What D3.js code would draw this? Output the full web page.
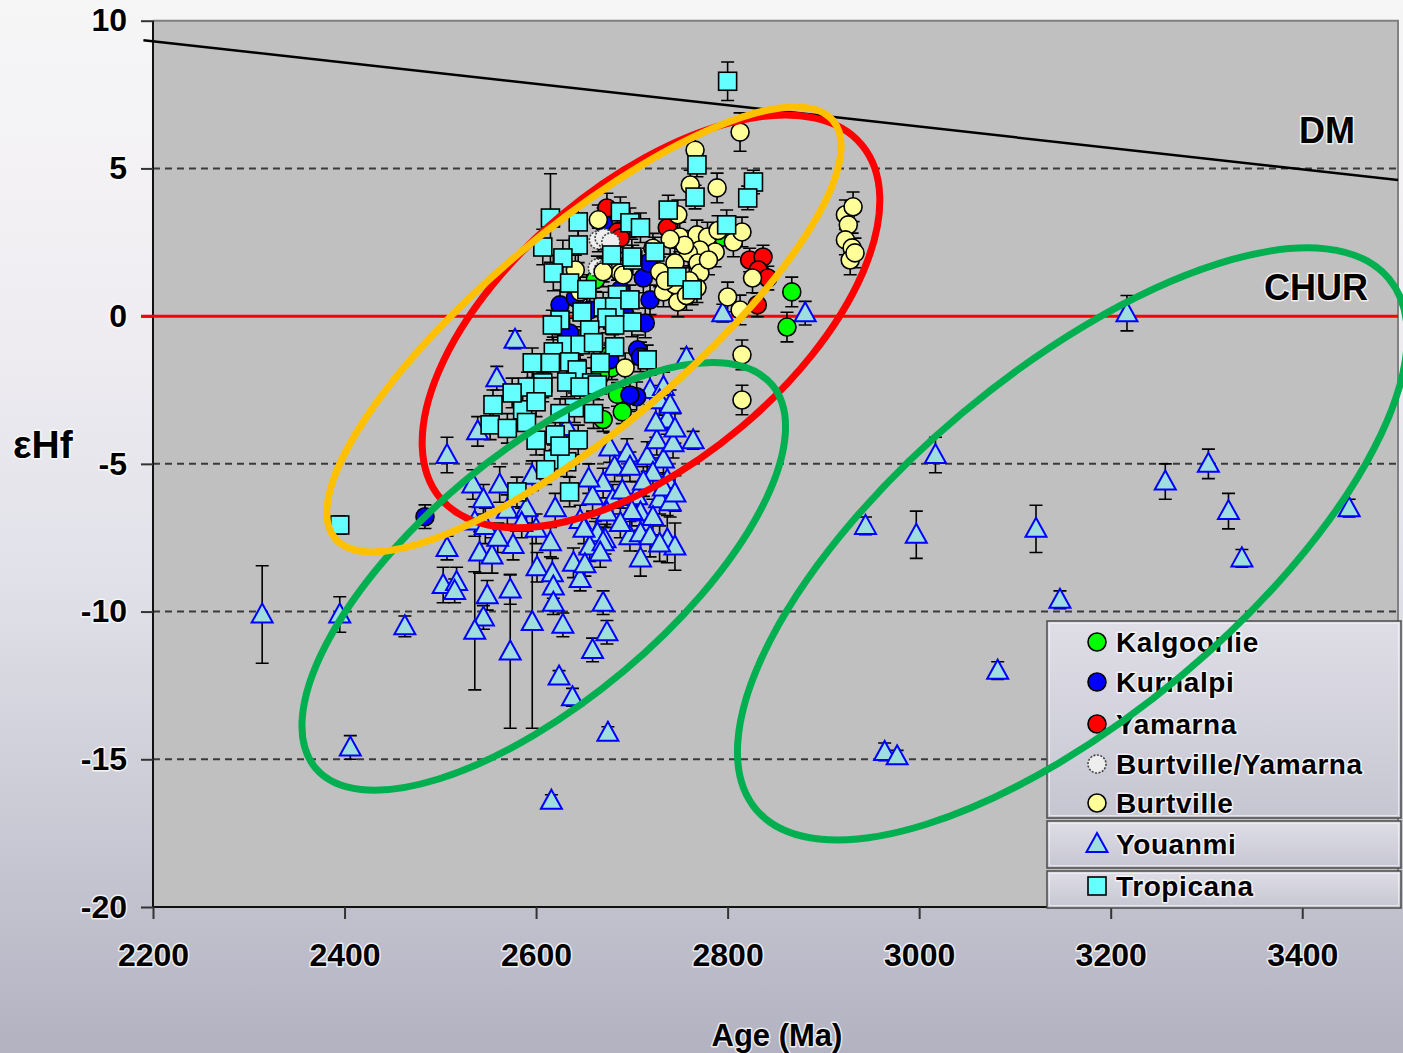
<!DOCTYPE html>
<html>
<head>
<meta charset="utf-8">
<script src="https://cdn.jsdelivr.net/npm/d3@7"></script>
<style>
  html, body { margin: 0; padding: 0; }
  svg { display: block; }
  text { font-family: "Liberation Sans", Arial, sans-serif; font-weight: bold; fill: #000; }
  .halo { paint-order: stroke; stroke: rgba(255,255,255,0.75); stroke-width: 3px; stroke-linejoin: round; }
</style>
</head>
<body>
<svg id="chart" width="1403" height="1053"></svg>
<script>
// ---- axis ticks ----
const xTicks = [2200, 2400, 2600, 2800, 3000, 3200, 3400];
const yTicks = [-20, -15, -10, -5, 0, 5, 10];
const gridValues = [5, -5, -10, -15];

// ---- reference curves: depleted mantle and CHUR ----
const dmCurve = [[2190, 9.34], [3500, 4.61]];
const churValue = 0;

// ---- samples: [age (Ma), εHf, 2σ error] ----
const kalgoorlie = [
  [2670, -3.5, 0.4], [2690, -3.24, 0.4], [2685, -2.65, 0.4], [2677, -1.31, 0.4],
  [2662, 1.23, 0.4], [2679, -1.75, 0.4], [2667, -2.0, 0.4], [2795, 2.68, 0.3],
  [2867, 0.82, 0.5], [2862, -0.37, 0.5]
];
const kurnalpi = [
  [2625, 0.38, 0.5], [2635, -0.57, 0.5], [2712, 1.29, 0.5], [2714, -0.23, 0.5],
  [2706, -1.14, 0.5], [2717, 1.8, 0.5], [2709, -1.38, 0.5], [2705, -2.73, 0.5],
  [2484, -6.79, 0.4], [2670, 3.16, 0.5], [2677, -1.48, 0.5], [2688, 0.89, 0.5],
  [2693, 0.04, 0.5], [2719, 0.55, 0.5], [2698, -2.67, 0.5], [2656, 0.21, 0.5],
  [2641, 0.62, 0.5]
];
const yamarna = [
  [2674, 3.66, 0.5], [2685, 2.85, 0.5], [2688, 2.65, 0.5], [2737, 2.99, 0.5],
  [2823, 1.9, 0.4], [2837, 2.0, 0.4], [2832, 1.56, 0.4], [2842, 1.29, 0.4],
  [2831, 0.38, 0.4]
];
const burtvilleYamarna = [
  [2665, 2.58, 0.4], [2671, 2.65, 0.4], [2664, 1.63, 0.4], [2670, 1.56, 0.4],
  [2678, 2.51, 0.4]
];
const burtville = [
  [2813, 6.23, 0.65], [2766, 5.62, 0.5], [2761, 4.44, 0.5], [2789, 4.34, 0.5],
  [2748, 3.43, 0.5], [2750, 2.68, 0.5], [2768, 2.75, 0.5], [2779, 2.68, 0.5],
  [2787, 2.17, 0.5], [2771, 2.24, 0.5], [2759, 2.14, 0.5], [2769, 1.8, 0.5],
  [2745, 1.8, 0.5], [2729, 1.5, 0.5], [2733, 0.82, 0.5], [2748, 0.48, 0.5],
  [2771, 1.46, 0.5], [2768, 0.96, 0.5], [2806, 2.51, 0.5], [2815, 2.85, 0.5],
  [2826, 1.29, 0.5], [2800, 0.65, 0.5], [2813, 0.21, 0.5], [2923, 3.43, 0.5],
  [2931, 3.7, 0.5], [2926, 3.09, 0.5], [2923, 2.58, 0.5], [2930, 2.31, 0.5],
  [2928, 1.9, 0.5], [2933, 2.14, 0.5], [2688, 1.46, 0.5], [2670, 1.5, 0.5],
  [2815, -1.31, 0.5], [2815, -2.84, 0.5], [2693, -1.75, 0.5], [2665, 3.26, 0.5],
  [2691, 1.39, 0.5], [2641, 1.56, 0.5], [2646, 0.82, 0.5], [2745, 1.06, 0.5],
  [2755, 2.4, 0.5], [2780, 1.9, 0.5], [2760, 1.2, 0.5], [2740, 2.6, 0.5],
  [2790, 2.9, 0.5], [2722, 2.3, 0.5], [2735, 1.2, 0.5], [2757, 0.7, 0.5]
];
const youanmi = [
  [2314, -10.1, 1.65], [2395, -10.1, 0.6], [2406, -14.6, 0.4], [2463, -10.5, 0.35],
  [2507, -4.7, 0.6], [2559, -2.1, 0.4], [2578, -0.8, 0.3], [2616, -16.4, 0.2],
  [2675, -14.1, 0.2], [2624, -12.2, 0.2], [2638, -12.9, 0.3], [2795, 0.1, 0.3],
  [2881, 0.1, 0.4], [2764, -4.2, 0.3], [2757, -1.4, 0.3], [2944, -7.1, 0.3],
  [2997, -7.4, 0.8], [3017, -4.7, 0.6], [3082, -12.0, 0.3], [3122, -7.2, 0.8],
  [3147, -9.6, 0.3], [3217, 0.1, 0.6], [3257, -5.6, 0.6], [3302, -5.0, 0.5],
  [3323, -6.6, 0.6], [3337, -8.2, 0.3], [3449, -6.5, 0.3], [2964, -14.75, 0.3],
  [2977, -14.9, 0.2],
  [2534, -5.7, 0.5], [2562, -5.7, 0.6], [2596, -5.4, 0.5], [2536, -6.95, 0.5],
  [2547, -7.1, 0.6], [2570, -6.55, 0.5], [2507, -7.85, 0.4], [2541, -8.0, 0.7],
  [2554, -8.1, 0.6], [2576, -7.75, 0.5], [2615, -7.65, 0.5], [2601, -8.5, 0.5],
  [2617, -8.7, 0.5], [2639, -8.35, 0.5], [2646, -8.9, 0.4], [2503, -9.1, 0.6],
  [2517, -9.0, 0.5], [2515, -9.3, 0.4], [2549, -9.45, 0.5], [2573, -9.25, 0.5],
  [2618, -9.15, 0.4], [2618, -9.7, 0.4], [2672, -7.55, 0.5], [2662, -7.45, 0.5],
  [2698, -7.45, 0.5], [2670, -9.7, 0.4], [2545, -10.2, 0.4], [2536, -10.65, 2.0],
  [2596, -10.35, 3.6], [2628, -10.45, 0.4], [2674, -10.7, 0.4], [2659, -11.3, 0.4],
  [2573, -11.35, 2.6],
  [2719, -2.5, 0.5], [2733, -2.4, 0.5], [2729, -2.85, 0.5], [2737, -3.5, 0.5],
  [2677, -4.45, 0.5], [2695, -4.65, 0.5], [2716, -4.75, 0.5], [2726, -4.2, 0.5],
  [2733, -4.85, 0.5], [2743, -4.3, 0.5], [2682, -5.1, 0.5], [2698, -5.1, 0.5],
  [2722, -5.3, 0.5], [2737, -5.55, 0.5], [2670, -5.65, 0.5], [2659, -6.1, 0.5],
  [2680, -6.2, 0.5], [2705, -6.1, 0.5], [2729, -6.2, 0.5], [2740, -6.3, 0.5],
  [2632, -3.75, 0.5], [2674, -6.65, 0.5], [2646, -6.9, 0.5], [2664, -7.35, 0.5],
  [2709, -6.65, 0.6], [2722, -6.8, 0.6], [2709, -7.35, 0.6], [2719, -7.45, 0.7],
  [2737, -7.55, 0.8], [2656, -7.8, 0.5], [2670, -7.65, 0.5], [2539, -3.9, 0.5],
  [2709, -8.2, 0.6], [2651, -8.4, 0.4], [2545, -6.2, 0.5], [2590, -6.5, 0.5],
  [2667, -8.0, 0.5],
  [2740, -3.0, 0.5], [2745, -3.8, 0.5], [2733, -5.8, 0.5], [2745, -6.0, 0.6],
  [2725, -3.6, 0.5], [2690, -5.9, 0.5], [2700, -6.6, 0.5], [2688, -7.0, 0.5],
  [2745, -7.8, 0.8], [2729, -7.7, 0.6], [2712, -5.6, 0.5], [2650, -7.2, 0.5],
  [2655, -5.5, 0.5], [2600, -7.2, 0.5], [2585, -7.0, 0.5], [2560, -7.5, 0.5],
  [2620, -6.5, 0.5]
];
const tropicana = [
  [2800, 7.95, 0.65], [2768, 5.12, 0.4], [2827, 4.54, 0.4], [2821, 4.0, 0.4],
  [2766, 4.03, 0.4], [2738, 3.59, 0.5], [2799, 3.09, 0.5], [2747, 1.33, 0.5],
  [2724, 2.17, 0.5], [2701, 1.9, 0.5], [2679, 2.07, 0.5], [2688, 3.53, 0.5],
  [2698, 3.16, 0.5], [2709, 2.99, 0.5], [2680, -0.13, 0.5], [2700, -0.2, 0.5],
  [2615, 3.32, 1.5], [2644, 3.19, 0.6], [2644, 2.41, 0.6], [2607, 2.34, 0.6],
  [2628, 1.97, 0.6], [2700, 2.0, 0.6], [2618, 1.46, 0.6], [2635, 1.12, 0.6],
  [2763, 0.89, 0.5], [2685, 0.72, 0.5], [2670, 0.31, 0.5], [2682, 0.31, 0.5],
  [2698, 0.55, 0.5], [2625, -0.13, 0.5], [2648, 0.14, 0.5], [2674, -0.06, 0.5],
  [2617, -0.3, 0.5], [2656, -0.47, 0.5], [2682, -0.3, 0.5], [2632, -0.97, 0.5],
  [2646, -0.97, 0.5], [2682, -1.04, 0.5], [2618, -1.21, 0.5], [2596, -1.58, 0.5],
  [2615, -1.58, 0.5], [2635, -1.55, 0.5], [2667, -1.58, 0.5], [2716, -1.48, 0.5],
  [2607, -2.26, 0.5], [2643, -1.82, 0.5], [2632, -2.23, 0.5], [2658, -2.26, 0.5],
  [2555, -3.0, 0.5], [2586, -3.17, 0.5], [2552, -3.68, 0.5], [2591, -2.4, 0.5],
  [2607, -2.4, 0.5], [2646, -2.4, 0.5], [2664, -2.33, 0.5], [2620, -4.02, 0.5],
  [2644, -4.19, 0.5], [2618, -4.86, 0.5], [2632, -4.93, 0.5], [2580, -5.95, 0.5],
  [2635, -5.95, 0.5], [2395, -7.07, 0.3],
  [2590, -3.6, 0.5], [2600, -4.2, 0.5], [2625, -4.4, 0.5], [2610, -5.2, 0.5],
  [2600, -2.9, 0.5], [2575, -2.6, 0.5], [2640, -3.1, 0.5], [2660, -3.3, 0.5],
  [2625, -3.3, 0.5], [2570, -3.8, 0.5], [2653, 0.9, 0.5], [2660, -0.9, 0.5]
];

// ---- series styling, in drawing order ----
const series = [
  { name: "Youanmi",           data: youanmi,          shape: "triangle", fill: "#9fdede", stroke: "#0000ff" },
  { name: "Kalgoorlie",        data: kalgoorlie,       shape: "circle",   fill: "#00ff00", stroke: "#000" },
  { name: "Kurnalpi",          data: kurnalpi,         shape: "circle",   fill: "#0000ff", stroke: "#000" },
  { name: "Yamarna",           data: yamarna,          shape: "circle",   fill: "#ff0000", stroke: "#000" },
  { name: "Burtville/Yamarna", data: burtvilleYamarna, shape: "circle",   fill: "#eeeeee", stroke: "#444", dash: "2,1.5" },
  { name: "Burtville",         data: burtville,        shape: "circle",   fill: "#ffff99", stroke: "#000" },
  { name: "Tropicana",         data: tropicana,        shape: "square",   fill: "#66ffff", stroke: "#000" }
];
const legendGroups = [
  ["Kalgoorlie", "Kurnalpi", "Yamarna", "Burtville/Yamarna", "Burtville"],
  ["Youanmi"],
  ["Tropicana"]
];

// ---- hand-drawn field outlines (centre in age/εHf, semi-axes in px) ----
const fields = [
  { age: 2720, eHf: -0.18, a: 275, b: 139, angle: -40, color: "#ff0000" },
  { age: 2608, eHf: -8.81, a: 298, b: 124, angle: -40, color: "#00b050" },
  { age: 3160, eHf: -7.71, a: 413, b: 171, angle: -40, color: "#00b050" },
  { age: 2650, eHf: -0.45, a: 325, b: 100, angle: -40, color: "#ffc000" }
];

const W = 1403, H = 1053;
const svg = d3.select("#chart");

// page background
const defs = svg.append("defs");
const bg = defs.append("linearGradient").attr("id", "pageBg").attr("x1", 0).attr("y1", 0).attr("x2", 0).attr("y2", 1);
[[0, "#f7f6f7"], [0.3, "#efedf1"], [0.55, "#e1e1e9"], [0.8, "#c8c8d4"], [1, "#b2b2c1"]]
  .forEach(([o, c]) => bg.append("stop").attr("offset", o).attr("stop-color", c));
const lg = defs.append("linearGradient").attr("id", "legendBg").attr("x1", 0).attr("y1", 0).attr("x2", 0).attr("y2", 1);
[[0, "#dfdee7"], [1, "#c6c6d2"]].forEach(([o, c]) => lg.append("stop").attr("offset", o).attr("stop-color", c));
svg.append("rect").attr("width", W).attr("height", H).attr("fill", "url(#pageBg)");

const x = d3.scaleLinear().domain([2200, 3500]).range([153, 1398]);
const y = d3.scaleLinear().domain([-20, 10]).range([907, 20.7]);
const [x0, x1] = x.range();
const [y0, y1] = y.range();

// plot area
svg.append("rect").attr("x", x0).attr("y", y1).attr("width", x1 - x0).attr("height", y0 - y1)
  .attr("fill", "#c0c0c0");
svg.append("path").attr("d", `M${x0},${y1}H${x1}V${y0}`).attr("fill", "none")
  .attr("stroke", "#808080").attr("stroke-width", 2);

// dashed gridlines
svg.append("g").selectAll("line").data(gridValues).join("line")
  .attr("x1", x0).attr("x2", x1).attr("y1", d => y(d)).attr("y2", d => y(d))
  .attr("stroke", "#3a3a3a").attr("stroke-width", 2).attr("stroke-dasharray", "7,5");

// axes (plain hyphen for negative labels)
const plain = d => String(d);
const yAxis = svg.append("g").attr("transform", `translate(${x0},0)`)
  .call(d3.axisLeft(y).tickValues(yTicks).tickSize(12).tickPadding(14).tickFormat(plain));
const xAxis = svg.append("g").attr("transform", `translate(0,${y0})`)
  .call(d3.axisBottom(x).tickValues(xTicks).tickSize(12).tickPadding(24).tickFormat(plain));
[yAxis, xAxis].forEach(g => {
  g.select(".domain").attr("stroke", "#111").attr("stroke-width", 2);
  g.selectAll(".tick line").attr("stroke", "#333").attr("stroke-width", 2);
  g.selectAll(".tick text").attr("font-size", 32).attr("fill", "#000").classed("halo", true)
    .style("font-family", "'Liberation Sans', Arial, sans-serif").style("font-weight", "bold");
});
xAxis.select(".domain").attr("d", `M${x0},0H${x1}`);
yAxis.select(".domain").attr("d", `M0,${y1}V${y0}`);

// CHUR and DM reference lines
svg.append("line").attr("x1", 141).attr("x2", x1).attr("y1", y(churValue)).attr("y2", y(churValue))
  .attr("stroke", "#ff0000").attr("stroke-width", 3);
svg.append("path").datum(dmCurve)
  .attr("d", d3.line().x(d => x(d[0])).y(d => y(d[1])))
  .attr("fill", "none").attr("stroke", "#000").attr("stroke-width", 2.5);

svg.append("text").attr("x", 1299).attr("y", 143).attr("font-size", 36).classed("halo", true).text("DM");
svg.append("text").attr("x", 1264).attr("y", 300).attr("font-size", 36).classed("halo", true).text("CHUR");

// axis titles
svg.append("text").attr("x", 13).attr("y", 458).attr("font-size", 39).classed("halo", true).text("εHf");
svg.append("text").attr("x", 777).attr("y", 1046).attr("font-size", 31).attr("text-anchor", "middle")
  .classed("halo", true).text("Age (Ma)");

// marker shapes
function marker(sel, shape) {
  if (shape === "circle") {
    sel.append("circle").attr("r", 9);
  } else if (shape === "square") {
    sel.append("rect").attr("x", -9).attr("y", -9).attr("width", 18).attr("height", 18);
  } else {
    sel.append("path").attr("d", "M0,-11L10.5,8L-10.5,8Z");
  }
}
function styleMarker(g, s) {
  g.selectAll("circle,rect,path")
    .attr("fill", s.fill).attr("stroke", s.stroke)
    .attr("stroke-width", s.shape === "triangle" ? 2 : 1.6)
    .attr("stroke-dasharray", s.dash || null)
    .attr("stroke-linejoin", "miter");
}

// error bars (all under the symbols)
const errG = svg.append("g").attr("stroke", "#000").attr("stroke-width", 1.6).attr("fill", "none");
series.forEach(s => {
  errG.selectAll(null).data(s.data).join("path")
    .attr("d", d => {
      const cx = x(d[0]), ya = y(d[1] + d[2]), yb = y(d[1] - d[2]);
      return `M${cx - 6.5},${ya}H${cx + 6.5}M${cx},${ya}V${yb}M${cx - 6.5},${yb}H${cx + 6.5}`;
    });
});

// symbols
series.forEach(s => {
  const g = svg.append("g");
  g.selectAll("g").data(s.data).join("g")
    .attr("transform", d => `translate(${x(d[0])},${y(d[1])})`)
    .each(function () { marker(d3.select(this), s.shape); });
  styleMarker(g, s);
});

// legend
const legX = 1047, legW = 354;
const sections = [[621, 818], [821, 868], [871, 908]];
const rowY = [[642, 682, 724, 764, 803], [844], [886]];
const legend = svg.append("g");
sections.forEach(([t, b], i) => {
  legend.append("rect").attr("x", legX).attr("y", t).attr("width", legW).attr("height", b - t)
    .attr("fill", "url(#legendBg)").attr("stroke", "#4a4a4a").attr("stroke-width", 1.5);
  legend.append("rect").attr("x", legX + 2.5).attr("y", t + 2.5).attr("width", legW - 5).attr("height", b - t - 5)
    .attr("fill", "none").attr("stroke", "#f2f2f6").attr("stroke-opacity", 0.7).attr("stroke-width", 1);
  legendGroups[i].forEach((name, j) => {
    const s = series.find(v => v.name === name);
    const ry = rowY[i][j];
    const m = legend.append("g").attr("transform", `translate(1097,${ry})`);
    marker(m, s.shape);
    styleMarker(m, s);
    legend.append("text").attr("x", 1116).attr("y", ry + 10).attr("font-size", 28)
      .attr("letter-spacing", 0.6).classed("halo", true).text(name);
  });
});

// field outlines
svg.append("g").selectAll("ellipse").data(fields).join("ellipse")
  .attr("cx", d => x(d.age)).attr("cy", d => y(d.eHf))
  .attr("rx", d => d.a).attr("ry", d => d.b)
  .attr("transform", d => `rotate(${d.angle},${x(d.age)},${y(d.eHf)})`)
  .attr("fill", "none").attr("stroke", d => d.color).attr("stroke-width", 7);
</script>
</body>
</html>
